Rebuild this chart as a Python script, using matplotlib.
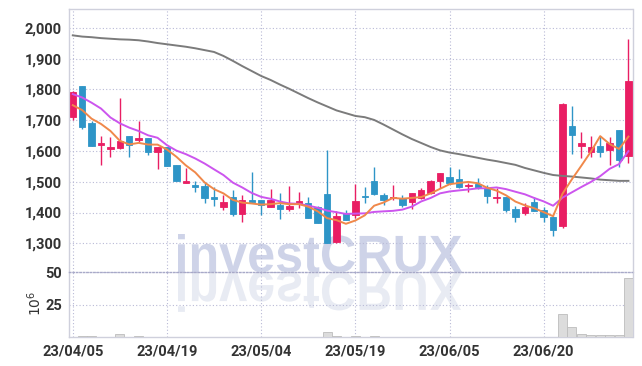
import matplotlib
matplotlib.use("Agg")
import matplotlib.pyplot as plt
from matplotlib.textpath import TextPath
from matplotlib.patches import PathPatch
from matplotlib.font_manager import FontProperties
from matplotlib.transforms import Affine2D, IdentityTransform
import numpy as np

# ---- data ----
tick_labels = ['23/04/05', '23/04/19', '23/05/04', '23/05/19', '23/06/05', '23/06/20']
tick_index = [0, 10, 20, 30, 40, 50]

opens = [1711, 1811, 1692, 1620, 1605, 1611, 1648, 1636, 1642, 1598,
         1612, 1553, 1497, 1489, 1486, 1452, 1419, 1450, 1396, 1440,
         1441, 1419, 1425, 1413, 1428, 1430, 1418, 1460, 1305, 1397,
         1392, 1455, 1502, 1457, 1446, 1446, 1433, 1446, 1462, 1501,
         1516, 1509, 1485, 1492, 1479, 1446, 1450, 1411, 1400, 1434,
         1408, 1387, 1357, 1681, 1617, 1598, 1616, 1603, 1668, 1585]
highs = [1795, 1812, 1697, 1650, 1644, 1771, 1649, 1697, 1643, 1613,
         1613, 1554, 1546, 1503, 1497, 1483, 1458, 1472, 1458, 1533,
         1442, 1475, 1462, 1487, 1468, 1449, 1420, 1604, 1406, 1408,
         1492, 1484, 1547, 1463, 1488, 1457, 1465, 1481, 1506, 1528,
         1547, 1541, 1496, 1511, 1489, 1479, 1452, 1422, 1430, 1449,
         1419, 1388, 1755, 1746, 1663, 1648, 1648, 1645, 1669, 1963]
lows = [1700, 1673, 1617, 1553, 1582, 1605, 1582, 1628, 1587, 1540,
        1550, 1502, 1496, 1466, 1430, 1422, 1408, 1388, 1368, 1432,
        1392, 1418, 1378, 1406, 1415, 1382, 1365, 1300, 1300, 1376,
        1382, 1430, 1457, 1424, 1441, 1417, 1411, 1445, 1460, 1479,
        1496, 1479, 1466, 1478, 1430, 1430, 1401, 1368, 1392, 1405,
        1370, 1324, 1349, 1589, 1576, 1580, 1580, 1554, 1549, 1560]
closes = [1792, 1679, 1617, 1625, 1613, 1632, 1620, 1642, 1598, 1612,
          1552, 1503, 1502, 1484, 1448, 1443, 1434, 1396, 1440, 1434,
          1425, 1441, 1413, 1422, 1436, 1383, 1366, 1302, 1389, 1377,
          1436, 1450, 1459, 1441, 1452, 1423, 1463, 1472, 1501, 1527,
          1497, 1484, 1489, 1479, 1454, 1450, 1408, 1387, 1418, 1406,
          1387, 1343, 1753, 1652, 1626, 1613, 1598, 1625, 1571, 1828]

ma5 = [1749, 1733, 1705, 1688, 1665.2, 1633.2, 1621.4, 1626.4, 1621.0, 1620.8,
       1604.8, 1581.4, 1553.4, 1530.6, 1497.8, 1476.0, 1462.2, 1441.0, 1432.2, 1429.4,
       1425.8, 1427.2, 1430.6, 1427.0, 1427.4, 1419.0, 1404.0, 1381.8, 1375.2, 1363.4,
       1374.0, 1390.8, 1422.2, 1432.6, 1447.6, 1445.0, 1447.6, 1450.2, 1462.2, 1477.2,
       1492.0, 1496.2, 1499.6, 1495.2, 1480.6, 1471.2, 1456.0, 1435.6, 1423.4, 1413.8,
       1401.2, 1388.2, 1461.4, 1508.2, 1552.2, 1597.4, 1648.4, 1622.8, 1606.6, 1647.0]
ma10 = [1785, 1774, 1757, 1738, 1709, 1690, 1676, 1665, 1651, 1643.0,
        1619.0, 1601.4, 1589.9, 1575.8, 1559.3, 1540.4, 1521.8, 1497.2, 1481.4, 1463.6,
        1450.9, 1444.7, 1435.8, 1429.6, 1428.4, 1422.4, 1415.6, 1406.2, 1401.1, 1395.4,
        1396.5, 1397.4, 1402.0, 1403.9, 1405.5, 1409.5, 1419.2, 1436.2, 1447.4, 1462.4,
        1468.5, 1471.9, 1474.9, 1478.7, 1478.9, 1481.6, 1476.1, 1467.6, 1459.3, 1447.2,
        1436.2, 1422.1, 1448.5, 1465.8, 1483.0, 1499.3, 1518.3, 1542.1, 1557.4, 1599.6]
ma_long = [1976, 1972, 1970, 1967, 1965, 1963, 1962, 1960, 1956, 1951,
           1947, 1943, 1939, 1934, 1928, 1922, 1909, 1893, 1876, 1860,
           1844, 1831, 1816, 1802, 1787, 1772, 1758, 1745, 1732, 1723,
           1714, 1710, 1701, 1686, 1670, 1654, 1639, 1626, 1613, 1602,
           1595, 1590, 1584, 1578, 1572, 1567, 1561, 1555, 1545, 1537,
           1529, 1522, 1519, 1517, 1514, 1511, 1507, 1505, 1503, 1503]
volumes = [0.4, 0.9, 0.9, 0.4, 0.3, 2.5, 0.4, 0.9, 0.3, 0.3,
           0.3, 0.3, 0.3, 0.3, 0.3, 0.3, 0.3, 0.3, 0.3, 0.3,
           0.3, 0.3, 0.3, 0.3, 0.3, 0.3, 0.3, 4.0, 1.0, 0.4,
           0.8, 0.3, 0.8, 0.3, 0.3, 0.3, 0.3, 0.3, 0.3, 0.3,
           0.3, 0.3, 0.3, 0.3, 0.3, 0.3, 0.3, 0.3, 0.3, 0.3,
           0.3, 0.3, 17.7, 7.7, 2.3, 1.6, 1.5, 1.6, 1.6, 45.4]

UP = '#e91e63'
DOWN = '#2e95c7'
GRID = '#b9bad6'
SPINE = '#cfd0dc'
TXT = '#333333'
FONT = ['Roboto', 'DejaVu Sans']

fig = plt.figure(figsize=(6.42, 3.66), dpi=100, facecolor='white')
L, R = 69 / 642, 632.5 / 642
ax = fig.add_axes([L, 1 - 272.3 / 366, R - L, (272.3 - 9.3) / 366])
axv = fig.add_axes([L, 1 - 337.3 / 366, R - L, (337.3 - 272.3) / 366], sharex=ax)
for a in (ax, axv):
    a.set_facecolor('none')
    for s in a.spines.values():
        s.set_color(SPINE)
        s.set_linewidth(1.0)
    a.tick_params(length=0, labelsize=10.5, labelcolor=TXT)
    a.grid(True, color=GRID, linestyle=(0, (1, 2)), linewidth=0.8)
    a.set_axisbelow(True)
ax.spines['bottom'].set_visible(False)
axv.spines['top'].set_linestyle((0, (1, 1.5)))
axv.spines['top'].set_color('#a8a9c8')

x = np.arange(len(opens))
o = np.array(opens, float); c = np.array(closes, float)
h = np.array(highs, float); l = np.array(lows, float)
up = c >= o
colors = np.where(up, UP, DOWN)
ax.vlines(x, l, h, colors=colors, linewidth=1.0, zorder=3)
body_bottom = np.minimum(o, c)
body_h = np.maximum(np.abs(c - o), 3.5)
ax.bar(x, body_h, width=0.68, bottom=body_bottom, color=colors, edgecolor=colors,
       linewidth=0.6, zorder=4)

ax.plot(x, ma_long, color='#7b7b7b', linewidth=1.4, zorder=5)
ax.plot(x, ma10, color='#cc55ee', linewidth=1.4, zorder=5)
ax.plot(x, ma5, color='#f0884a', linewidth=1.4, zorder=6)

ax.set_ylim(1205.7, 2060.7)
ax.set_yticks(range(1300, 2001, 100))
ax.set_yticklabels([f'{v:,}' for v in range(1300, 2001, 100)])
ax.set_xlim(-0.4, 59.43)
ax.set_xticks(tick_index)
ax.tick_params(axis='x', labelbottom=False)
ax.tick_params(axis='y', pad=5)

axv.bar(x, volumes, width=0.96, color='#dcdcdc', edgecolor='#bdbdbd', linewidth=0.6, zorder=3)
axv.set_ylim(0, 50)
axv.set_yticks([25, 50])
axv.set_xticks(tick_index)
axv.set_xticklabels(tick_labels)
axv.tick_params(axis='y', pad=5)
axv.tick_params(axis='x', pad=5)
axv.set_ylabel(r'$10^6$', fontsize=10, color=TXT, family='DejaVu Sans')
axv.yaxis.set_label_coords((44 - 69) / 563.5, 0.52)

for a in (ax, axv):
    for lab in a.get_xticklabels() + a.get_yticklabels():
        lab.set_fontfamily(FONT)
        lab.set_fontweight('bold')

# watermark with reflection (pixel coordinates, origin bottom-left)
prop = FontProperties(family=['Liberation Sans', 'DejaVu Sans'], weight='bold')
tp = TextPath((0, 0), 'investCRUX', size=100, prop=prop)
ext = tp.get_extents()
sx = 284 / ext.width
sy = 38 / ext.ymax
base = 366 - 272
t_main = Affine2D().translate(-ext.xmin, 0).scale(sx, sy).translate(178, base)
t_refl = Affine2D().translate(-ext.xmin, 0).scale(sx, -sy * 1.05).translate(178, base)
wm = PathPatch(t_main.transform_path(tp), facecolor='#c9cfe6', edgecolor='none',
               transform=IdentityTransform(), zorder=-1, alpha=0.9)
wr = PathPatch(t_refl.transform_path(tp), facecolor='#e6e9f2', edgecolor='none',
               transform=IdentityTransform(), zorder=-1, alpha=0.9)
fig.add_artist(wm)
fig.add_artist(wr)

fig.savefig('out.png', dpi=100, facecolor='white')
